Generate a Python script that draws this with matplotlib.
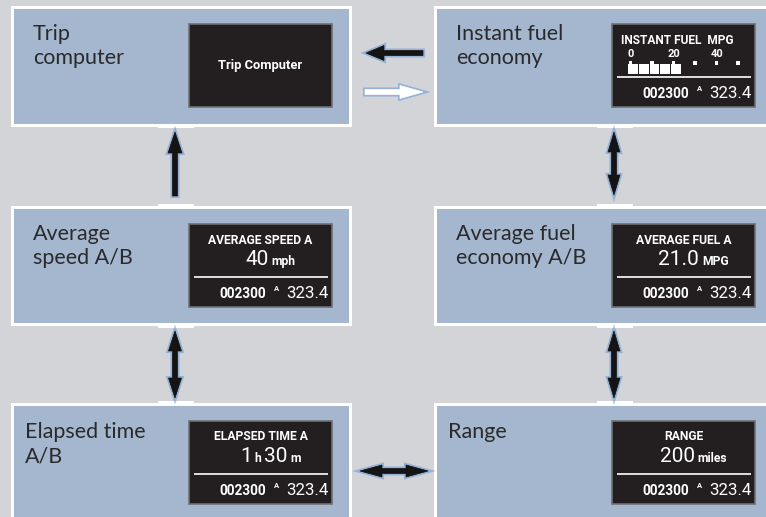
import matplotlib
matplotlib.use("Agg")
import matplotlib.pyplot as plt
from matplotlib.patches import Rectangle, Polygon
import matplotlib.patheffects as pe
import numpy as np

# ---------------- data ----------------
titles = [["Trip", "computer"], ["Instant fuel", "economy"],
          ["Average", "speed A/B"], ["Average fuel", "economy A/B"],
          ["Elapsed time", "A/B"], ["Range"]]
screen_headings = ["Trip Computer", "INSTANT FUEL  MPG", "AVERAGE SPEED A",
                   "AVERAGE FUEL A", "ELAPSED TIME A", "RANGE"]
value_parts = [None, None, ["40", "mph"], ["21.0", "MPG"],
               ["1", "h", "30", "m"], ["200", "miles"]]
odometer = "002300"
trip_a = "323.4"
gauge_ticks = [0, 20, 40]
gauge_dots = [0, 10, 20, 30, 40, 50]
gauge_value = 25
gauge_block = 5

# ---------------- style ----------------
BG = "#d3d4d8"
BOX = "#a5b7cf"
SCREEN = "#231f20"
TXT = "#2a2a2c"
GLOW = "#3f7fd0"

fig = plt.figure(figsize=(7.66, 5.17), dpi=100)
fig.patch.set_facecolor(BG)
ax = fig.add_axes([0, 0, 1, 1])
ax.set_xlim(0, 766)
ax.set_ylim(517, 0)
ax.axis("off")
ax.set_facecolor(BG)

cols = [(11, 352), (434, 770)]
rows = [(6, 127), (206, 326), (403, 522)]
screen_x = [(189, 332), (612, 755)]
screen_top = [24, 224, 421]
title_x = [[33, 456], [33, 456], [25, 448]]
title_base = [40, 240, 438]

fig.canvas.draw()
renderer = fig.canvas.get_renderer()


def width_of(t):
    return t.get_window_extent(renderer).width


for r in range(3):
    for c in range(2):
        i = r * 2 + c
        x0, x1 = cols[c]
        y0, y1 = rows[r]
        ax.add_patch(Rectangle((x0, y0), x1 - x0, y1 - y0, facecolor="white",
                               edgecolor="none", zorder=1))
        ax.add_patch(Rectangle((x0 + 3, y0 + 3), x1 - x0 - 6, y1 - y0 - 6,
                               facecolor=BOX, edgecolor="none", zorder=2))
        for k, line in enumerate(titles[i]):
            ax.text(title_x[r][c], title_base[r] + 24.5 * k, line, family="Lato",
                    fontsize=15.5, color=TXT, va="baseline", ha="left", zorder=5)
        sx0, sx1 = screen_x[c]
        sy = screen_top[r]
        ax.add_patch(Rectangle((sx0, sy), sx1 - sx0, 83, facecolor=SCREEN,
                               edgecolor="#6f6f73", linewidth=1.2, zorder=3))
        cx = (sx0 + sx1) / 2
        if i == 0:
            ax.text(cx, sy + 41, screen_headings[i], family="Roboto",
                    fontweight="bold", fontsize=9.3, color="white",
                    ha="center", va="center", zorder=5)
            continue
        if i == 1:
            ax.text(sx0 + 9, sy + 16, screen_headings[i], family="Roboto",
                    fontweight="bold", fontsize=8.6, color="white",
                    ha="left", va="center", zorder=5)
            g0 = sx0 + 18
            scale = 2.15
            for t in gauge_ticks:
                ax.text(g0 + t * scale + 1, sy + 30, str(t), family="Roboto",
                        fontweight="bold", fontsize=8, color="white",
                        ha="center", va="center", zorder=5)
            for d in gauge_dots:
                ax.add_patch(Rectangle((g0 + d * scale - 1.5, sy + 37), 3.5, 3.5,
                                       facecolor="white", edgecolor="none",
                                       zorder=5))
            v = 0
            while v < gauge_value:
                v1 = min(v + gauge_block, gauge_value)
                ax.add_patch(Rectangle((g0 + v * scale - 2, sy + 40),
                                       (v1 - v) * scale - 1, 9.5,
                                       facecolor="white", edgecolor="none",
                                       zorder=5))
                v = v1
        else:
            ax.text(cx, sy + 16, screen_headings[i], family="Roboto",
                    fontweight="bold", fontsize=8.7, color="white",
                    ha="center", va="center", zorder=5)
            parts = value_parts[i]
            arts = []
            for k, p in enumerate(parts):
                big = (k % 2 == 0)
                t = ax.text(0, sy + 41, p, family="Roboto",
                            fontweight="normal" if big else "bold",
                            fontsize=15 if big else 8.7, color="white",
                            ha="left", va="baseline", zorder=5)
                arts.append(t)
            ws = [width_of(t) for t in arts]
            gap = 3
            total = sum(ws) + gap * (len(ws) - 1)
            xs = cx + 10 - total / 2
            for t, w in zip(arts, ws):
                t.set_x(xs)
                xs += w + gap
        ax.plot([sx0 + 5, sx1 - 4], [sy + 53, sy + 53], color="white",
                lw=1.2, zorder=5, solid_capstyle="butt")
        ax.text(sx0 + 77, sy + 74, odometer, family="Roboto", fontweight="bold",
                fontsize=9.8, color="white", ha="right", va="baseline", zorder=5)
        ax.text(sx0 + 88, sy + 67, "A", family="Roboto", fontweight="bold",
                fontsize=5.5, color="white", ha="center", va="baseline", zorder=5)
        ax.text(sx1 - 3, sy + 74, trip_a, family="Roboto", fontweight="normal",
                fontsize=12.2, color="white", ha="right", va="baseline", zorder=5)

for (tx0, tx1) in [(158, 194), (597, 633)]:
    for ty in [124, 204, 324, 401]:
        ax.add_patch(Rectangle((tx0, ty), tx1 - tx0, 4, facecolor="white",
                               edgecolor="none", zorder=2.5))


def arrow_poly(p0, p1, shaft, head_w, head_len, double):
    p0 = np.array(p0, float)
    p1 = np.array(p1, float)
    d = p1 - p0
    L = np.hypot(*d)
    u = d / L
    n = np.array([-u[1], u[0]])
    hs, hw = shaft / 2, head_w / 2
    pts = []
    if double:
        a = p0 + u * head_len
        pts += [p0, a + n * hw, a + n * hs]
    else:
        pts += [p0 + n * hs]
    b = p1 - u * head_len
    pts += [b + n * hs, b + n * hw, p1, b - n * hw, b - n * hs]
    if double:
        pts += [a - n * hs, a - n * hw]
    else:
        pts += [p0 - n * hs]
    return pts


def draw_arrow(p0, p1, double=False, color="#141414", shaft=5, hw=14, hl=21):
    poly = Polygon(arrow_poly(p0, p1, shaft, hw, hl, double), closed=True,
                   facecolor=color, edgecolor=color, linewidth=0.5, zorder=6)
    poly.set_path_effects([pe.Stroke(linewidth=3.0, foreground=GLOW, alpha=0.4),
                           pe.Normal()])
    ax.add_patch(poly)


draw_arrow((175, 196), (175, 132))
draw_arrow((175, 331), (175, 398), double=True, hw=13, hl=20)
draw_arrow((614, 132), (614, 195), double=True, hw=12, hl=20)
draw_arrow((614, 331), (614, 398), double=True, hw=12, hl=20)
draw_arrow((360, 471), (428, 471), double=True, hw=12, hl=22)
draw_arrow((423, 53), (366, 53), hw=15, hl=18)
draw_arrow((365, 92), (423, 92), color="white", shaft=5, hw=13, hl=23)

fig.savefig("out.png", dpi=100, facecolor=BG)
